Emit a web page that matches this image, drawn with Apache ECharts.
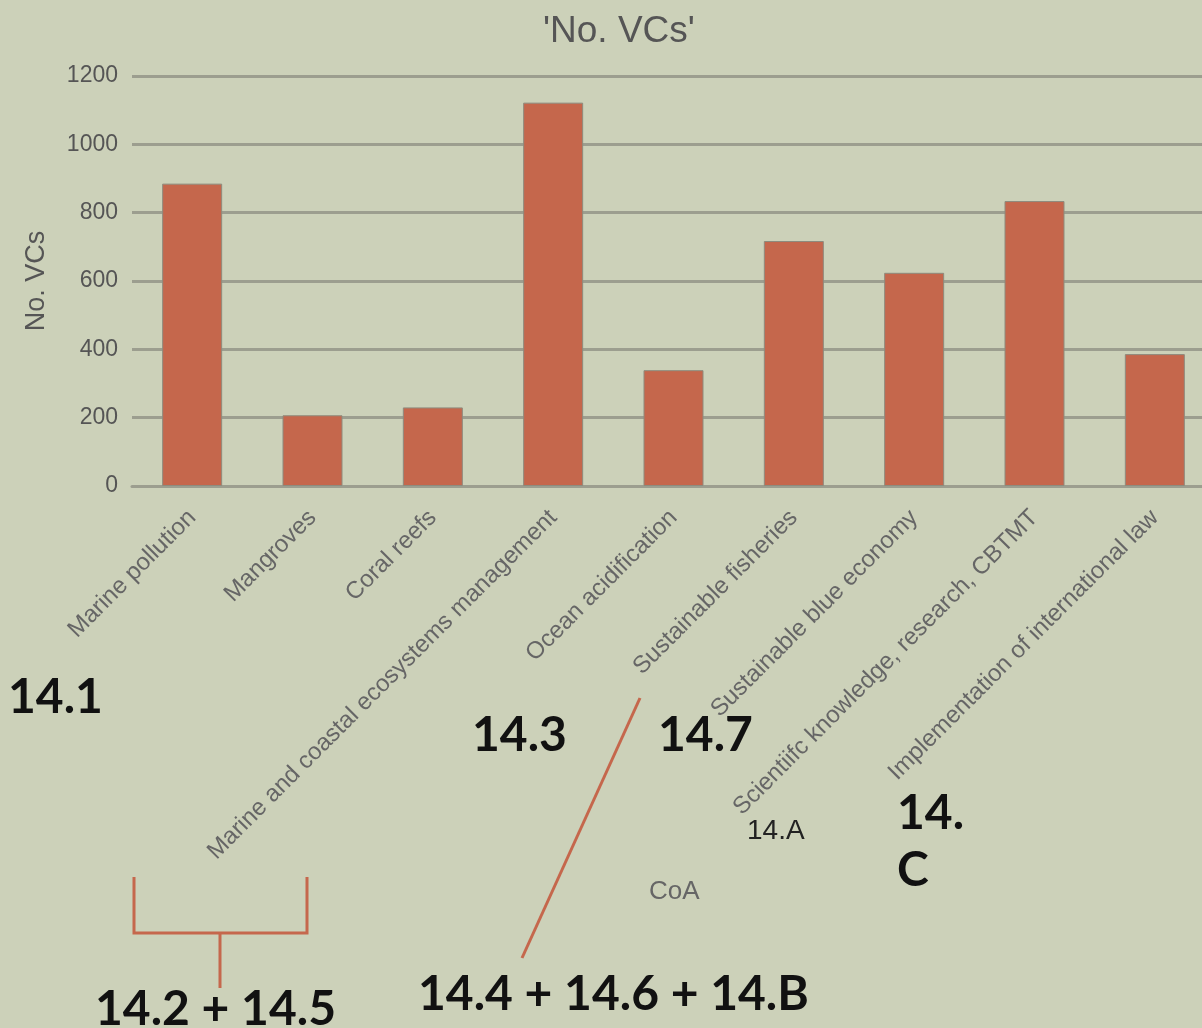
<!DOCTYPE html>
<html>
<head>
<meta charset="utf-8">
<script src="https://cdn.jsdelivr.net/npm/echarts@6/dist/echarts.min.js"></script>
<style>
html,body{margin:0;padding:0;background:#ccd1b9;}
#chart{width:1202px;height:1028px;}
</style>
</head>
<body>
<div id="chart"></div>
<script>
const categories = [
  'Marine pollution',
  'Mangroves',
  'Coral reefs',
  'Marine and coastal ecosystems management',
  'Ocean acidification',
  'Sustainable fisheries',
  'Sustainable blue economy',
  'Scientiifc knowledge, research, CBTMT',
  'Implementation of international law'
];
const vcCounts = [885, 207, 230, 1122, 339, 717, 624, 834, 386];
const yTicks = { min: 0, max: 1200, interval: 200 };
const titleText = "'No. VCs'";
const yAxisName = 'No. VCs';

const accent = '#c5674c';
const bigFont = { fontFamily: 'Lato', fontWeight: 'bold', fontSize: 48, fill: '#111' };

function bigText(text, x, y) {
  return { type: 'text', silent: true, style: Object.assign({ text: text, x: x, y: y, verticalAlign: 'middle' }, bigFont) };
}

const chart = echarts.init(document.getElementById('chart'), null, { renderer: 'canvas' });
chart.setOption({
  backgroundColor: '#ccd1b9',
  animation: false,
  title: {
    text: titleText,
    left: 538,
    top: 8,
    textStyle: { fontFamily: 'Liberation Sans', fontWeight: 'normal', fontSize: 37, color: '#555' }
  },
  grid: { left: 132, top: 76, width: 1083, height: 410, outerBoundsMode: 'none', containLabel: false },
  xAxis: {
    type: 'category',
    data: categories,
    axisLine: { lineStyle: { color: '#9c9e8f', width: 3 } },
    axisTick: { show: false },
    axisLabel: {
      interval: 0, rotate: 45, margin: 28,
      fontFamily: 'Liberation Sans', fontSize: 24, color: '#666'
    }
  },
  yAxis: {
    type: 'value',
    min: yTicks.min, max: yTicks.max, interval: yTicks.interval,
    name: yAxisName,
    nameLocation: 'middle',
    nameGap: 82,
    nameTextStyle: { fontFamily: 'Liberation Sans', fontSize: 27, color: '#555' },
    axisLine: { show: false },
    axisTick: { show: false },
    axisLabel: {
      margin: 14, fontFamily: 'Liberation Sans', fontSize: 23, color: '#555',
      formatter: function (v) { return String(v); }
    },
    splitLine: { lineStyle: { color: '#9c9e8f', width: 3 } }
  },
  series: [{
    type: 'bar',
    data: vcCounts,
    barWidth: 60,
    itemStyle: { color: accent, borderColor: '#8e8b7d', borderWidth: 1 }
  }],
  graphic: [
    bigText('14.1', 8, 698),
    bigText('14.3', 472, 736),
    bigText('14.7', 658, 736),
    bigText('14.', 897, 814),
    bigText('C', 897, 871),
    bigText('14.2 + 14.5', 95, 1010),
    bigText('14.4 + 14.6 + 14.B', 418, 995),
    { type: 'text', silent: true, style: { text: '14.A', x: 747, y: 831, verticalAlign: 'middle', fontFamily: 'Liberation Sans', fontSize: 28, fill: '#222' } },
    { type: 'text', silent: true, style: { text: 'CoA', x: 649, y: 892, verticalAlign: 'middle', fontFamily: 'Liberation Sans', fontSize: 26, fill: '#666' } },
    { type: 'polyline', silent: true, shape: { points: [[134, 877], [134, 933], [307, 933], [307, 877]] }, style: { stroke: accent, lineWidth: 3, fill: null } },
    { type: 'polyline', silent: true, shape: { points: [[220, 933], [220, 988]] }, style: { stroke: accent, lineWidth: 3, fill: null } },
    { type: 'polyline', silent: true, shape: { points: [[640, 698], [522, 958]] }, style: { stroke: accent, lineWidth: 3, fill: null } }
  ]
});
</script>
</body>
</html>
